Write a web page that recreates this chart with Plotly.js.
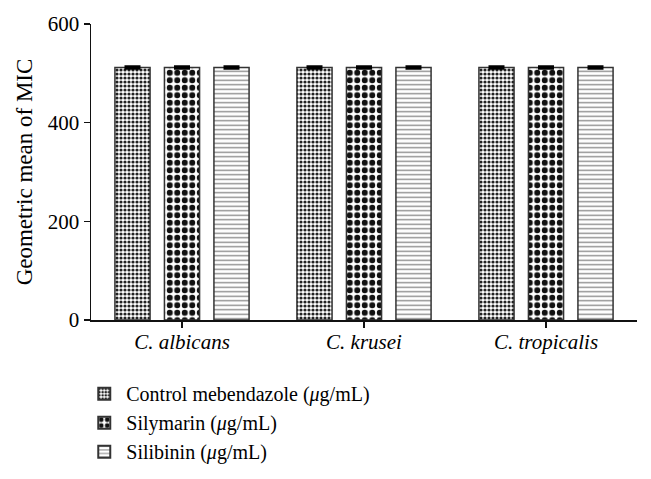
<!DOCTYPE html>
<html>
<head>
<meta charset="utf-8">
<script src="https://cdn.plot.ly/plotly-3.0.1.min.js"></script>
<style>html,body{margin:0;padding:0;background:#fff;}#chart{width:651px;height:479px;}</style>
</head>
<body>
<div id="chart"></div>
<script>
const categories = ["<i>C. albicans</i>", "<i>C. krusei</i>", "<i>C. tropicalis</i>"];
const seriesNames = ["Control mebendazole (<i>μ</i>g/mL)", "Silymarin (<i>μ</i>g/mL)", "Silibinin (<i>μ</i>g/mL)"];
const controlValues = [512, 512, 512];
const silymarinValues = [512, 512, 512];
const silibininValues = [512, 512, 512];
const controlErrors = [1.5, 1.5, 1.5];
const silymarinErrors = [1.5, 1.5, 1.5];
const silibininErrors = [1.5, 1.5, 1.5];
const yTicks = [0, 200, 400, 600];
const yTitle = "Geometric mean of MIC";

const FONT = "Liberation Serif, Times New Roman, serif";
const patterns = [
  {shape: ".", size: 4, solidity: 0.5, fgcolor: "#222", bgcolor: "#fff", fillmode: "replace"},
  {shape: ".", size: 7.5, solidity: 0.5, fgcolor: "#111", bgcolor: "#fff", fillmode: "replace"},
  {shape: "-", size: 4.5, solidity: 0.3, fgcolor: "#8a8a8a", bgcolor: "#fff", fillmode: "replace"}
];
const vals = [controlValues, silymarinValues, silibininValues];
const errs = [controlErrors, silymarinErrors, silibininErrors];

const traces = vals.map((v, i) => ({
  type: "bar",
  name: seriesNames[i],
  x: categories,
  y: v,
  marker: {color: "#fff", pattern: patterns[i], line: {color: "#333", width: 1.5}},
  error_y: {type: "data", array: errs[i], visible: true, color: "#000", thickness: 3, width: 8}
}));

const layout = {
  width: 651, height: 479,
  margin: {l: 91, r: 14, t: 24, b: 159, autoexpand: false},
  paper_bgcolor: "#fff", plot_bgcolor: "#fff",
  font: {family: FONT, size: 21, color: "#000"},
  barmode: "group",
  bargap: 0.184,
  bargroupgap: 0.29,
  showlegend: true,
  legend: {x: -0.016, xanchor: "left", y: -0.183, yanchor: "top", orientation: "v",
           font: {family: FONT, size: 20, color: "#000"}, tracegroupgap: 0, itemsizing: "constant",
           itemwidth: 34, bgcolor: "rgba(0,0,0,0)"},
  xaxis: {
    type: "category", range: [-0.5, 2.5],
    showline: true, linecolor: "#111", linewidth: 1.5,
    ticks: "outside", ticklen: 6, tickwidth: 1.5, tickcolor: "#111",
    showgrid: false, zeroline: false, fixedrange: true, tickangle: 0,
    ticklabelstandoff: -4,
    tickfont: {family: FONT, size: 21, color: "#000"}
  },
  yaxis: {
    range: [0, 600], tickvals: yTicks, ticktext: yTicks.map(String),
    showline: true, linecolor: "#111", linewidth: 1.5,
    ticks: "outside", ticklen: 6, tickwidth: 1.5, tickcolor: "#111",
    showgrid: false, zeroline: false, fixedrange: true,
    tickfont: {family: FONT, size: 21, color: "#000"},
    title: {text: yTitle, font: {family: FONT, size: 23, color: "#000"}, standoff: 8}
  }
};

Plotly.newPlot("chart", traces, layout, {displayModeBar: false, staticPlot: true});
</script>
</body>
</html>
